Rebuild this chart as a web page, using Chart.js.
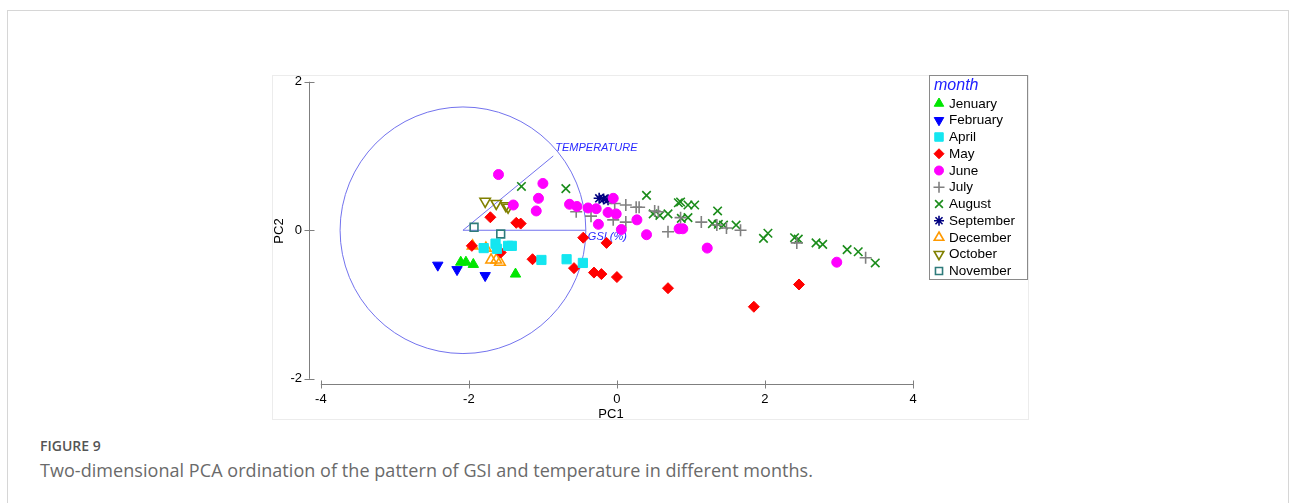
<!DOCTYPE html>
<html>
<head>
<meta charset="utf-8">
<script src="https://cdn.jsdelivr.net/npm/chart.js@4.4.1/dist/chart.umd.min.js"></script>
<style>
  body { margin: 0; background: #fff; overflow: hidden; }
  #frame { position: absolute; left: 7px; top: 10px; width: 1280px; height: 520px; border: 1px solid #d6d6d6; }
  .fig { position: absolute; left: 40px; top: 436px; font-family: "Open Sans"; font-size: 14px; font-weight: 600; color: #555; }
  .cap { position: absolute; left: 40px; top: 458px; font-family: "Open Sans"; font-size: 18px; color: #6a6a6a; letter-spacing: 0.05px; }
  canvas { position: absolute; left: 0; top: 0; }
</style>
</head>
<body>
<div id="frame"></div>
<div class="fig">FIGURE 9</div>
<div class="cap">Two-dimensional PCA ordination of the pattern of GSI and temperature in different months.</div>
<canvas id="chart" width="1293" height="503"></canvas>
<script>
// PCA scores per month
const months = ['Jenuary', 'February', 'April', 'May', 'June', 'July', 'August', 'September', 'December', 'October', 'November'];

const janX = [-2.11, -2.04, -1.94, -1.37];
const janY = [-0.43, -0.43, -0.46, -0.59];
const febX = [-2.42, -2.16, -1.78];
const febY = [-0.47, -0.53, -0.61];
const aprX = [-1.80, -1.64, -1.62, -1.47, -1.42, -1.02, -0.68, -0.46];
const aprY = [-0.24, -0.18, -0.25, -0.21, -0.21, -0.40, -0.39, -0.44];
const mayX = [-1.96, -1.71, -1.36, -1.30, -1.57, -1.14, -0.58, -0.455, -0.14, -0.31, -0.21, 0.00, 0.69, 1.85, 2.46];
const mayY = [-0.21, 0.175, 0.10, 0.09, -0.30, -0.39, -0.51, -0.10, -0.17, -0.57, -0.59, -0.63, -0.78, -1.03, -0.73];
const junX = [-1.60, -1.40, -1.00, -1.06, -1.09, -0.64, -0.54, -0.39, -0.28, -0.25, -0.12, -0.05, -0.01, 0.06, 0.27, 0.40, 0.84, 0.89, 1.22, 2.97];
const junY = [0.75, 0.34, 0.63, 0.43, 0.26, 0.35, 0.32, 0.30, 0.29, 0.08, 0.24, 0.43, 0.22, 0.01, 0.14, -0.06, 0.02, 0.02, -0.24, -0.43];
const julX = [-0.55, -0.35, -0.05, -0.03, 0.12, 0.26, 0.30, 0.12, 0.51, 0.56, 0.69, 0.86, 1.14, 1.35, 1.48, 1.67, 2.43, 3.36];
const julY = [0.25, 0.19, 0.14, 0.36, 0.34, 0.31, 0.31, 0.11, 0.26, 0.25, -0.02, 0.17, 0.11, 0.07, 0.03, 0.00, -0.17, -0.37];
const augX = [-1.29, -0.69, 0.40, 0.49, 0.58, 0.69, 0.83, 0.86, 0.96, 1.05, 0.87, 0.96, 1.36, 1.29, 1.37, 1.44, 1.61, 1.98, 2.04, 2.40, 2.45, 2.69, 2.78, 3.11, 3.26, 3.49];
const augY = [0.59, 0.56, 0.47, 0.22, 0.20, 0.22, 0.37, 0.38, 0.34, 0.34, 0.16, 0.17, 0.26, 0.09, 0.08, 0.07, 0.07, -0.11, -0.04, -0.10, -0.12, -0.17, -0.19, -0.26, -0.29, -0.44];
const sepX = [-0.24, -0.18, -0.12];
const sepY = [0.43, 0.42, 0.41];
const decX = [-1.95, -1.77, -1.70, -1.63, -1.58];
const decY = [-0.21, -0.24, -0.40, -0.40, -0.43];
const octX = [-1.78, -1.63, -1.50, -1.47];
const octY = [0.39, 0.36, 0.33, 0.31];
const novX = [-1.93, -1.57];
const novY = [0.04, -0.05];

// correlation circle and variable vectors
const circleX = -2.08, circleY = 0, circleR = 1.66;
const vecNames = ['TEMPERATURE', 'GSI (%)'];
const vecX = [-0.86, -0.42];
const vecY = [1.00, 0.00];

const xTicks = [-4, -2, 0, 2, 4];
const yTicks = [-2, 0, 2];

// marker styles, same order as months
const colors = ['#00e600', '#0000ff', '#14e6f0', '#ff0000', '#ff00ff', '#808080', '#1a8c1a', '#000080', '#ff9900', '#808000', '#2e7b7b'];
const shapes = ['triangle', 'triangle', 'rect', 'rectRot', 'circle', 'cross', 'crossRot', 'star', 'triangle', 'triangle', 'rect'];
const turns = [0, 180, 0, 0, 0, 0, 0, 0, 0, 180, 0];
const sizes = [6, 6, 6.5, 5.5, 5, 6, 6, 5.5, 6, 6, 5.5];
const filled = [true, true, true, true, true, false, false, false, false, false, false];

const xs = [janX, febX, aprX, mayX, junX, julX, augX, sepX, decX, octX, novX];
const ys = [janY, febY, aprY, mayY, junY, julY, augY, sepY, decY, octY, novY];

let datasets = months.map(function(m, i) {
    return {
        label: m,
        data: xs[i].map((x, j) => ({x: x, y: ys[i][j]})),
        pointStyle: shapes[i],
        pointRotation: turns[i],
        pointRadius: sizes[i],
        pointBorderWidth: filled[i] ? 1 : 1.6,
        borderColor: colors[i],
        backgroundColor: filled[i] ? colors[i] : 'rgba(0,0,0,0)'
    };
});

const axisFont = {family: '"Liberation Sans", Arial, sans-serif', size: 13};

const pcaPlugin = {
    id: 'pcaPlugin',
    beforeDraw(chart) {
        let ctx = chart.ctx;
        ctx.save();
        ctx.fillStyle = '#fff';
        ctx.fillRect(272, 75, 756, 345);
        ctx.strokeStyle = '#ececec';
        ctx.lineWidth = 1;
        ctx.strokeRect(272.5, 75.5, 756, 344);
        ctx.restore();
    },
    beforeDatasetsDraw(chart) {
        let ctx = chart.ctx;
        let sx = chart.scales.x, sy = chart.scales.y;
        ctx.save();

        // axes, only over the tick range
        ctx.strokeStyle = '#7f7f7f';
        ctx.lineWidth = 1;
        let ax = Math.round(chart.chartArea.left) + 0.5;
        let ay = Math.round(chart.chartArea.bottom) + 0.5;
        ctx.beginPath();
        ctx.moveTo(ax, sy.getPixelForValue(yTicks[yTicks.length - 1]));
        ctx.lineTo(ax, sy.getPixelForValue(yTicks[0]));
        yTicks.forEach(v => {
            let p = Math.round(sy.getPixelForValue(v)) + 0.5;
            ctx.moveTo(ax - 5, p);
            ctx.lineTo(ax + 5, p);
        });
        ctx.moveTo(sx.getPixelForValue(xTicks[0]), ay);
        ctx.lineTo(sx.getPixelForValue(xTicks[xTicks.length - 1]), ay);
        xTicks.forEach(v => {
            let p = Math.round(sx.getPixelForValue(v)) + 0.5;
            ctx.moveTo(p, ay - 4);
            ctx.lineTo(p, ay + 4);
        });
        ctx.stroke();

        // circle and vectors
        let cx = sx.getPixelForValue(circleX), cy = sy.getPixelForValue(circleY);
        let rx = sx.getPixelForValue(circleX + circleR) - cx;
        let ry = cy - sy.getPixelForValue(circleY + circleR);
        ctx.strokeStyle = '#7373ee';
        ctx.beginPath();
        ctx.ellipse(cx, cy, rx, ry, 0, 0, Math.PI * 2);
        ctx.stroke();
        ctx.beginPath();
        vecX.forEach((v, i) => {
            ctx.moveTo(cx, cy);
            ctx.lineTo(sx.getPixelForValue(v), sy.getPixelForValue(vecY[i]));
        });
        ctx.stroke();

        ctx.fillStyle = '#2a2aff';
        ctx.font = 'italic 11px "Liberation Sans", Arial, sans-serif';
        ctx.textBaseline = 'middle';
        ctx.textAlign = 'left';
        vecNames.forEach((n, i) => {
            let px = sx.getPixelForValue(vecX[i]) + 2;
            let py = sy.getPixelForValue(vecY[i]);
            if (vecY[i] > 0) py -= 8; else py += 7;
            ctx.fillText(n, px, py);
        });
        ctx.restore();
    },
    afterDraw(chart) {
        // legend box
        let ctx = chart.ctx;
        ctx.save();
        ctx.fillStyle = '#fff';
        ctx.fillRect(929, 75, 99, 205);
        ctx.strokeStyle = '#8a8a8a';
        ctx.lineWidth = 1;
        ctx.strokeRect(929.5, 75.5, 98, 204);

        ctx.fillStyle = '#2020ff';
        ctx.font = 'italic 16px "Liberation Sans", Arial, sans-serif';
        ctx.textBaseline = 'middle';
        ctx.textAlign = 'left';
        ctx.fillText('month', 934, 86);

        ctx.font = '13.5px "Liberation Sans", Arial, sans-serif';
        chart.data.datasets.forEach((ds, i) => {
            let y = 103.5 + i * 16.75;
            ctx.fillStyle = ds.backgroundColor;
            ctx.strokeStyle = ds.borderColor;
            ctx.lineWidth = ds.pointBorderWidth;
            Chart.helpers.drawPoint(ctx, {
                pointStyle: ds.pointStyle,
                rotation: ds.pointRotation,
                radius: ds.pointRadius - 0.5,
                borderWidth: ds.pointBorderWidth
            }, 939, y);
            ctx.fillStyle = '#000';
            ctx.fillText(ds.label, 949, y + 0.5);
        });
        ctx.restore();
    }
};

let chart = new Chart(document.getElementById('chart'), {
    type: 'scatter',
    data: {datasets: datasets},
    options: {
        responsive: false,
        animation: false,
        devicePixelRatio: 1,
        events: [],
        layout: {padding: {left: 272, top: 78, right: 380, bottom: 81}},
        plugins: {legend: {display: false}, tooltip: {enabled: false}},
        scales: {
            x: {
                type: 'linear', min: -4.16, max: 4.0,
                grid: {display: false, drawTicks: false},
                border: {display: false},
                afterBuildTicks: s => { s.ticks = xTicks.map(v => ({value: v})); },
                ticks: {padding: 8, color: '#000', font: axisFont, autoSkip: false, maxRotation: 0},
                title: {display: true, text: 'PC1', color: '#000', font: axisFont, padding: 0},
                afterFit: s => { s.height = 38; }
            },
            y: {
                type: 'linear', min: -2.07, max: 2.05,
                grid: {display: false, drawTicks: false},
                border: {display: false},
                afterBuildTicks: s => { s.ticks = yTicks.map(v => ({value: v})); },
                ticks: {padding: 7, color: '#000', font: axisFont, autoSkip: false},
                title: {display: true, text: 'PC2', color: '#000', font: axisFont, padding: 0},
                afterFit: s => { s.width = 37; }
            }
        }
    },
    plugins: [pcaPlugin]
});
</script>
</body>
</html>
